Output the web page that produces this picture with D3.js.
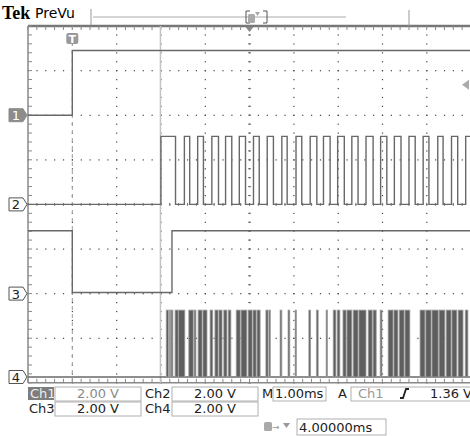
<!DOCTYPE html>
<html>
<head>
<meta charset="utf-8">
<style>
  body { margin: 0; background: #fff; }
  svg { display: block; font-family: "DejaVu Sans", sans-serif; }
</style>
<script src="https://cdn.jsdelivr.net/npm/d3@7"></script>
</head>
<body>
<svg id="scope"></svg>
<script>

// ============ Data (time in ms from left edge, level in volts) ============
var CH1_EDGES = [[0, 0.0], [1.0, 2.9], [10, 2.9]];           // [t, volts] step points
var CH3_EDGES = [[0, 2.82], [1.0, 0.05], [3.25, 2.82], [10, 2.82]];
var CH2_HIGH = 3.05;
var CH2_PULSES = [
    [3.00, 3.33], [3.53, 3.65], [3.83, 3.96], [4.15, 4.30], [4.46, 4.60],
    [4.77, 4.91], [5.09, 5.22], [5.40, 5.54], [5.73, 5.85], [6.05, 6.18],
    [6.37, 6.52], [6.67, 6.82], [6.99, 7.14], [7.31, 7.45], [7.63, 7.79],
    [7.96, 8.10], [8.27, 8.42], [8.60, 8.74], [8.92, 9.05], [9.25, 9.37],
    [9.56, 9.70], [9.88, 10.0]
];
var CH4_HIGH = 3.0;
var CH4_PULSES = [
    [3.12, 3.17], [3.19, 3.22], [3.23, 3.27], [3.32, 3.39], [3.40, 3.54],
    [3.63, 3.73], [3.75, 3.79], [3.84, 3.93], [3.95, 4.04], [4.11, 4.17],
    [4.22, 4.29], [4.31, 4.38], [4.42, 4.49], [4.52, 4.58], [4.70, 4.79],
    [4.81, 4.94], [4.97, 5.06], [5.08, 5.15], [5.17, 5.24], [5.37, 5.42],
    [5.44, 5.47], [5.69, 5.73], [5.87, 5.91], [6.03, 6.06], [6.34, 6.38],
    [6.51, 6.55], [6.73, 6.76], [6.89, 6.95], [6.98, 7.04], [7.11, 7.18],
    [7.20, 7.31], [7.34, 7.45], [7.47, 7.63], [7.68, 7.77], [7.79, 7.86],
    [7.95, 7.99], [8.13, 8.24], [8.26, 8.35], [8.38, 8.49], [8.51, 8.62],
    [8.85, 8.96], [8.98, 9.10], [9.12, 9.26], [9.28, 9.41], [9.44, 9.55],
    [9.57, 9.68], [9.71, 9.82], [9.87, 9.93]
];
var CH_NAMES = ['1', '2', '3', '4'];
var CH_OFFSETS = [2, 0, -2, -3.87];   // ground position in divisions
var VOLTS_PER_DIV = 2;
var TRIGGER_TIME = 1.0;
var CURSOR_TIME = 2.99;
var TRIGGER_LEVEL = 1.36;

var READOUT_ROW1 = ['Ch1', '2.00 V', 'Ch2', '2.00 V'];
var READOUT_ROW2 = ['Ch3', '2.00 V', 'Ch4', '2.00 V'];
var TIMEBASE = '1.00ms';
var TRIG_TEXT = ['Ch1', '1.36 V'];
var DELAY_TEXT = '4.00000ms';

// ============ Layout ============
var W = 470, H = 436;
var margin = {top: 26, left: 28};
var width = 443, height = 356.8;

var x = d3.scaleLinear().domain([0, 10]).range([margin.left, margin.left + width]);
var y = d3.scaleLinear().domain([-4, 4]).range([margin.top + height, margin.top]);
function yv(ch, v) { return y(CH_OFFSETS[ch] + v / VOLTS_PER_DIV); }

var svg = d3.select('#scope').attr('width', W).attr('height', H);
var TRACE = '#686868';

// ============ Graticule ============
var grid = svg.append('g');
var minor = d3.range(0, 10.001, 0.2);
var minorY = d3.range(-4, 4.001, 0.2);
// vertical dotted lines
d3.range(1, 10).forEach(function(i) {
    grid.selectAll(null).data(minorY).enter().append('rect')
        .attr('x', x(i) - 0.5).attr('y', d => y(d) - 0.5)
        .attr('width', 1.2).attr('height', 1.2).attr('fill', '#444');
});
// horizontal dotted lines
d3.range(-3, 4).forEach(function(j) {
    grid.selectAll(null).data(minor).enter().append('rect')
        .attr('x', d => x(d) - 0.5).attr('y', y(j) - 0.5)
        .attr('width', 1.2).attr('height', 1.2).attr('fill', '#444');
});
// center ticks
grid.selectAll(null).data(minor).enter().append('line')
    .attr('x1', d => x(d)).attr('x2', d => x(d))
    .attr('y1', y(0) - 1.5).attr('y2', y(0) + 1.5)
    .attr('stroke', '#777');
grid.selectAll(null).data(minorY).enter().append('line')
    .attr('y1', d => y(d)).attr('y2', d => y(d))
    .attr('x1', x(5) - 1.5).attr('x2', x(5) + 1.5)
    .attr('stroke', '#777');
// border
grid.append('line').attr('x1', x(0)).attr('x2', W)
    .attr('y1', y(4)).attr('y2', y(4)).attr('stroke', '#777').attr('stroke-width', 2.5);
grid.append('line').attr('x1', x(0)).attr('x2', W)
    .attr('y1', y(-4)).attr('y2', y(-4)).attr('stroke', '#888').attr('stroke-width', 1.5);
grid.append('line').attr('x1', x(0)).attr('x2', x(0))
    .attr('y1', y(4)).attr('y2', y(-4)).attr('stroke', '#888').attr('stroke-width', 1.5);
grid.selectAll(null).data(minor).enter().append('line')
    .attr('x1', d => x(d)).attr('x2', d => x(d))
    .attr('y1', y(4)).attr('y2', y(4) + 4).attr('stroke', '#888');
grid.selectAll(null).data(minor).enter().append('line')
    .attr('x1', d => x(d)).attr('x2', d => x(d))
    .attr('y1', y(-4)).attr('y2', y(-4) - 4).attr('stroke', '#888');
grid.selectAll(null).data(minorY).enter().append('line')
    .attr('y1', d => y(d)).attr('y2', d => y(d))
    .attr('x1', x(0)).attr('x2', x(0) + 4).attr('stroke', '#888');

// trigger position (dashed) and cursor line
grid.append('line').attr('x1', x(TRIGGER_TIME)).attr('x2', x(TRIGGER_TIME))
    .attr('y1', y(4)).attr('y2', y(-4))
    .attr('stroke', '#999').attr('stroke-dasharray', '4,4');
grid.append('line').attr('x1', x(CURSOR_TIME)).attr('x2', x(CURSOR_TIME))
    .attr('y1', y(4)).attr('y2', y(-4))
    .attr('stroke', '#c4c4c4').attr('stroke-width', 1.5);

// ============ Traces ============
var line = d3.line().x(d => x(d[0])).y(d => d[1]).curve(d3.curveStepAfter);

function stepTrace(ch, pts) {
    svg.append('path')
        .datum(pts.map(d => [d[0], yv(ch, d[1])]))
        .attr('d', line)
        .attr('fill', 'none').attr('stroke', TRACE).attr('stroke-width', 1.4);
}
function pulsePoints(pulses, high) {
    var pts = [[0, 0]];
    pulses.forEach(function(p) { pts.push([p[0], high]); pts.push([p[1], 0]); });
    pts.push([10, pts[pts.length - 1][1]]);
    return pts;
}

stepTrace(0, CH1_EDGES);
stepTrace(2, CH3_EDGES);
stepTrace(1, pulsePoints(CH2_PULSES, CH2_HIGH));

// channel 4 bursts: filled pulses over a baseline
svg.append('line').attr('x1', x(0)).attr('x2', x(10))
    .attr('y1', yv(3, 0)).attr('y2', yv(3, 0))
    .attr('stroke', TRACE).attr('stroke-width', 1.4);
svg.append('g').selectAll('rect').data(CH4_PULSES).enter().append('rect')
    .attr('x', d => x(d[0]))
    .attr('y', yv(3, CH4_HIGH))
    .attr('width', d => Math.max(1, x(d[1]) - x(d[0])))
    .attr('height', yv(3, 0) - yv(3, CH4_HIGH))
    .attr('fill', '#5e5e5e').attr('stroke', '#a0a0a0').attr('stroke-width', 0.8);

// ============ Markers ============
CH_NAMES.forEach(function(name, i) {
    var cy = yv(i, 0), x0 = 9, x1 = 23;
    var sel = i === 0;
    svg.append('path')
        .attr('d', `M${x0},${cy - 6.5}H${x1}L${x1 + 4},${cy}L${x1},${cy + 6.5}H${x0}Z`)
        .attr('fill', sel ? '#8c8c8c' : '#fff')
        .attr('stroke', sel ? '#8c8c8c' : '#555');
    svg.append('text').text(name)
        .attr('x', 16).attr('y', cy + 5)
        .attr('text-anchor', 'middle').attr('font-size', 13)
        .attr('fill', sel ? '#fff' : '#222');
});

// trigger "T" marker
svg.append('rect').attr('x', x(TRIGGER_TIME) - 6).attr('y', 33)
    .attr('width', 12).attr('height', 11).attr('rx', 2).attr('fill', '#999');
svg.append('text').text('T').attr('x', x(TRIGGER_TIME)).attr('y', 43)
    .attr('text-anchor', 'middle').attr('font-size', 11).attr('font-weight', 'bold')
    .attr('fill', '#fff');
// horizontal position arrow
svg.append('path').attr('d', `M${x(5) - 4},${y(4) + 1}h8l-4,5z`).attr('fill', '#888');
// trigger level arrow on the right
svg.append('path').attr('d', `M${W - 8},${yv(0, TRIGGER_LEVEL)}l7,-5v10z`).attr('fill', '#aaa');

// ============ Header ============
svg.append('text').text('Tek').attr('x', 2).attr('y', 19)
    .attr('font-family', 'Liberation Serif').attr('font-weight', 'bold').attr('font-size', 18);
svg.append('text').text('PreVu').attr('x', 35).attr('y', 18).attr('font-size', 14);
svg.append('line').attr('x1', 91).attr('x2', 91).attr('y1', 9).attr('y2', 25).attr('stroke', '#999');
svg.append('line').attr('x1', 93).attr('x2', 346).attr('y1', 17).attr('y2', 17).attr('stroke', '#aaa');
svg.append('line').attr('x1', 409).attr('x2', 409).attr('y1', 10).attr('y2', 26).attr('stroke', '#999');
svg.append('path').attr('d', 'M250,11h-4v12h4').attr('fill', 'none').attr('stroke', '#555');
svg.append('path').attr('d', 'M263,11h4v12h-4').attr('fill', 'none').attr('stroke', '#555');
svg.append('rect').attr('x', 248).attr('y', 14).attr('width', 7).attr('height', 9).attr('rx', 1.5).attr('fill', '#aaa');
svg.append('path').attr('d', 'M255,12h5l-2.5,4z').attr('fill', '#aaa');

// ============ Readout ============
var ro = svg.append('g').attr('font-size', 13);
function box(x0, y0, w, h) {
    ro.append('rect').attr('x', x0).attr('y', y0).attr('width', w).attr('height', h)
        .attr('fill', 'none').attr('stroke', '#b0b0b0');
}
function label(t, xx, yy, col, anchor) {
    ro.append('text').text(t).attr('x', xx).attr('y', yy)
        .attr('fill', col || '#222').attr('text-anchor', anchor || 'start');
}
// row 1
ro.append('rect').attr('x', 28).attr('y', 387).attr('width', 26).attr('height', 13).attr('fill', '#7d7d7d');
label(READOUT_ROW1[0], 30, 398, '#eee');
box(55, 387, 86, 14); label(READOUT_ROW1[1], 98, 398, '#8a8a8a', 'middle');
label(READOUT_ROW1[2], 145, 398);
box(172, 387, 86, 14); label(READOUT_ROW1[3], 215, 398, '#222', 'middle');
label('M', 262, 398);
box(273, 387, 53, 14); label(TIMEBASE, 275, 398);
label('A', 338, 398);
box(351, 387, 125, 14);
label(TRIG_TEXT[0], 358, 398, '#999');
ro.append('path').attr('d', 'M400,398h3l3,-9h3').attr('fill', 'none')
    .attr('stroke', '#222').attr('stroke-width', 1.8);
label(TRIG_TEXT[1], 430, 398);
// row 2
label(READOUT_ROW2[0], 29, 413);
box(55, 402, 86, 14); label(READOUT_ROW2[1], 98, 413, '#222', 'middle');
label(READOUT_ROW2[2], 145, 413);
box(172, 402, 86, 14); label(READOUT_ROW2[3], 215, 413, '#222', 'middle');
// row 3: delay
ro.append('rect').attr('x', 264).attr('y', 422).attr('width', 8).attr('height', 9).attr('rx', 1.5).attr('fill', '#aaa');
ro.append('text').text('→').attr('x', 272).attr('y', 430).attr('font-size', 9).attr('fill', '#999');
ro.append('path').attr('d', 'M283,423h7l-3.5,5z').attr('fill', '#999');
box(297, 419, 89, 16);
label(DELAY_TEXT, 299, 432);

</script>
</body>
</html>
